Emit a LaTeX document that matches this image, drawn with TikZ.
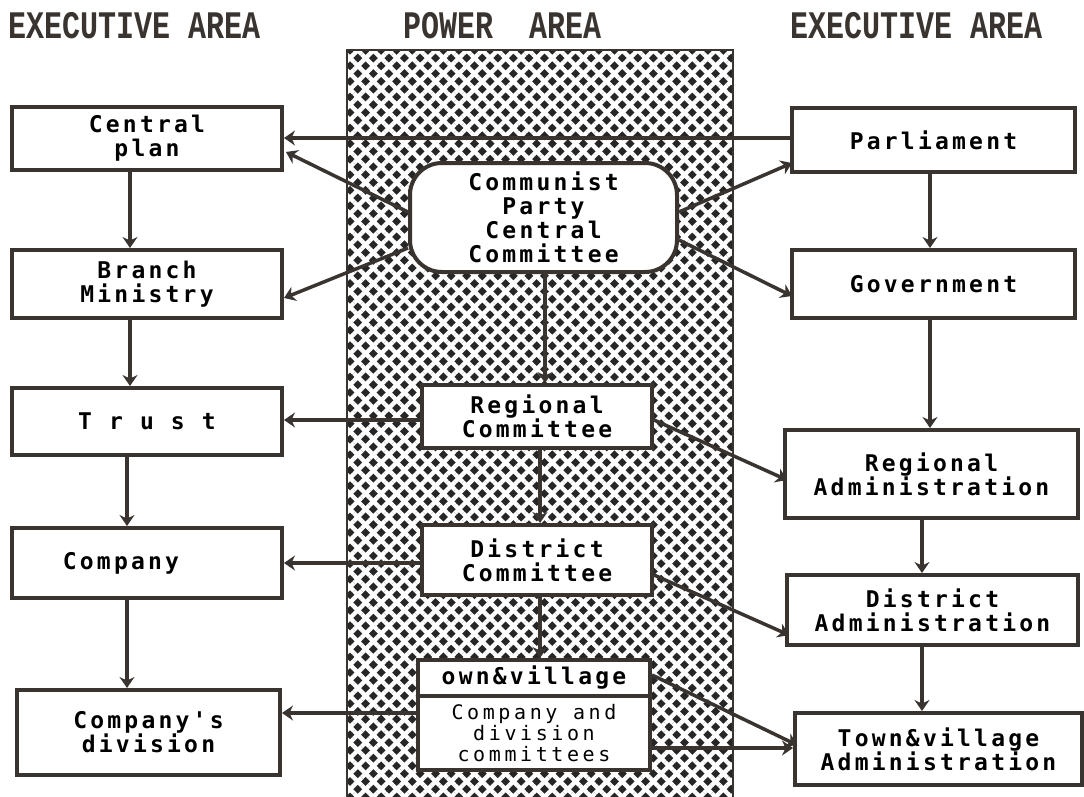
\documentclass[tikz,border=0pt]{standalone}
\usepackage{fontspec}
\usetikzlibrary{arrows.meta,patterns.meta}
\newfontfamily\pixfont[LetterSpace=14]{DejaVu Sans Mono Bold}
\newfontfamily\pixlight[LetterSpace=18]{DejaVu Sans Mono}
\newfontfamily\headfont{Liberation Mono Bold}
\definecolor{ink}{HTML}{3A3430}
\tikzset{
  box/.style={draw=ink,line width=4pt,fill=white,inner sep=0pt,align=center,
    font=\pixfont\fontsize{23}{24}\selectfont},
  link/.style={draw=ink,line width=3.5pt,-{Stealth[length=11pt,width=15pt]}},
  head/.style={font=\headfont\fontsize{30}{30}\selectfont,inner sep=0pt,text=ink,anchor=west}
}
\newcommand{\tallhead}[1]{\scalebox{1}[1.3]{#1}}
\begin{document}
\begin{tikzpicture}[x=1pt,y=-1pt]
\useasboundingbox (0,0) rectangle (1084,797);
% power area strip
\fill[black!85] (347,50) rectangle (733,797);
\fill[pattern={Lines[angle=45,distance=11pt,line width=4.4pt]},pattern color=white] (347,50) rectangle (733,797);
\fill[pattern={Lines[angle=-45,distance=11pt,line width=4.4pt]},pattern color=white] (347,50) rectangle (733,797);
\draw[ink,line width=2pt] (347,797) -- (347,50) -- (733,50) -- (733,797);
% headers
\node[head] (h1) at (8,26) {\tallhead{EXECUTIVE AREA}};
\node[head] (h2) at (403,26) {\tallhead{POWER\ \ AREA}};
\node[head] (h3) at (790,26) {\tallhead{EXECUTIVE AREA}};
% left column
\node[box,minimum width=270pt,minimum height=63pt] (cp) at (147,138.5) {Central\\plan};
\node[box,minimum width=270pt,minimum height=68pt] (bm) at (147,284) {Branch\\Ministry};
\node[box,minimum width=270pt,minimum height=67pt] (tr) at (147,421.5) {T r u s t};
\node[box,minimum width=270pt,minimum height=70pt] (co) at (147,563) {Company\hspace{52pt}};
\node[box,minimum width=263pt,minimum height=85pt] (cd) at (148.5,732.5) {Company's\\division};
% right column
\node[box,minimum width=283pt,minimum height=64pt] (pa) at (933.5,140) {Parliament};
\node[box,minimum width=283pt,minimum height=68pt] (go) at (933.5,284) {Government};
\node[box,minimum width=293pt,minimum height=88pt] (ra) at (931.5,474) {Regional\\Administration};
\node[box,minimum width=291pt,minimum height=70pt] (da) at (932.5,610) {District\\Administration};
\node[box,minimum width=287pt,minimum height=72pt] (ta) at (938.5,749) {Town\&village\\Administration};
% centre column
\node[box,rounded corners=32pt,minimum width=267pt,minimum height=109pt] (cc) at (543.5,217.5) {Communist\\Party\\Central\\Committee};
\node[box,minimum width=230pt,minimum height=63pt] (rc) at (537,416.5) {Regional\\Committee};
\node[box,minimum width=230pt,minimum height=70pt] (dc) at (537,560) {District\\Committee};
\node[box,minimum width=232pt,minimum height=36pt] (tc) at (534,678) {own\&village};
\node[box,minimum width=232pt,minimum height=74pt,font=\pixlight\fontsize{20}{21}\selectfont] (kc) at (534,733) {Company and\\division\\committees};
% vertical links
\draw[link] (cp.south -| 130,0) -- (bm.north -| 130,0);
\draw[link] (bm.south -| 130,0) -- (tr.north -| 130,0);
\draw[link] (tr.south -| 127,0) -- (co.north -| 127,0);
\draw[link] (co.south -| 127,0) -- (cd.north -| 127,0);
\draw[link] (pa.south -| 930,0) -- (go.north -| 930,0);
\draw[link] (go.south -| 930,0) -- (ra.north -| 930,0);
\draw[link] (ra.south -| 922,0) -- (da.north -| 922,0);
\draw[link] (da.south -| 922,0) -- (ta.north -| 922,0);
\draw[link] (cc.south -| 545,0) -- (rc.north -| 545,0);
\draw[link] (rc.south -| 540,0) -- (dc.north -| 540,0);
\draw[link] (dc.south -| 540,0) -- (tc.north -| 540,0);
% horizontal links
\draw[link] (pa.west |- 0,138) -- (cp.east |- 0,138);
\draw[link] (rc.west |- 0,420) -- (tr.east |- 0,420);
\draw[link] (dc.west |- 0,563) -- (co.east |- 0,563);
\draw[link] (kc.west |- 0,713) -- (cd.east |- 0,713);
\draw[link] (kc.east |- 0,748) -- (ta.west |- 0,748);
% diagonal links
\coordinate (cpin) at (286,152);
\coordinate (bmin) at (284,298);
\coordinate (pain) at (792,163);
\coordinate (goin) at (792,296);
\coordinate (rain) at (787,480);
\coordinate (dain) at (789,635);
\coordinate (tain) at (797,745);
\draw[link] (cc.west |- 0,212) -- (cpin);
\draw[link] (cc.west |- 0,248) -- (bmin);
\draw[link] (cc.east |- 0,212) -- (pain);
\draw[link] (cc.east |- 0,240) -- (goin);
\draw[link] (rc.east |- 0,420) -- (rain);
\draw[link] (dc.east |- 0,575) -- (dain);
\draw[link] (tc.east |- 0,675) -- (tain);
\end{tikzpicture}
\end{document}
